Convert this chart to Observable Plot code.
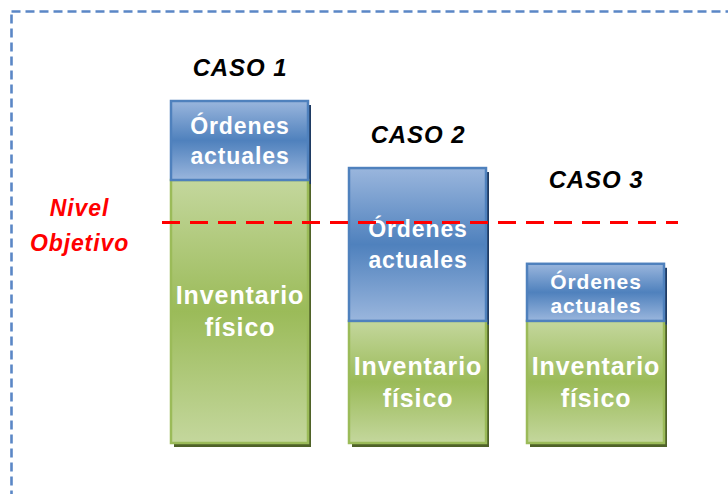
<!DOCTYPE html>
<html>
<head>
<meta charset="utf-8">
<script src="https://cdn.jsdelivr.net/npm/d3@7"></script>
<script src="https://cdn.jsdelivr.net/npm/@observablehq/plot@0.6"></script>
<style>
  html, body { margin: 0; padding: 0; background: #fff; }
  svg { display: block; }
</style>
</head>
<body>
<div id="chart"></div>
<script>
// ---- data ----
const cases = ["CASO 1", "CASO 2", "CASO 3"];
const inventario = [76.9, 35.7, 35.7];     // Inventario físico
const ordenes = [23.1, 44.7, 16.7];         // Órdenes actuales
const nivelObjetivo = 64.6;                 // Nivel Objetivo
const caseLabelLevel = [109.6, 90.1, 76.9]; // where the CASO titles sit (y units)
const segInventario = "Inventario\nfísico";
const segOrdenes = "Órdenes\nactuales";
const nivelLabel = "Nivel\nObjetivo";

// ---- derived tables ----
const invRows = cases.map((c, i) => ({caso: c, y1: 0, y2: inventario[i], mid: inventario[i] / 2, label: segInventario, i}));
const ordRows = cases.map((c, i) => ({caso: c, y1: inventario[i], y2: inventario[i] + ordenes[i], mid: inventario[i] + ordenes[i] / 2, label: segOrdenes, i}));
const titleRows = cases.map((c, i) => ({caso: c, y: caseLabelLevel[i]}));

const font = "'Liberation Sans', Arial, sans-serif";

const plot = Plot.plot({
  width: 728,
  height: 494,
  marginTop: 101,
  marginBottom: 51,
  marginLeft: 162,
  marginRight: 50,
  style: {fontFamily: font, background: "white", overflow: "hidden", letterSpacing: "0.9px"},
  x: {domain: cases, range: [130, 705], paddingInner: 0.23, paddingOuter: 0.23, axis: null},
  y: {domain: [0, 100], axis: null},
  marks: [
    // dashed border (clipped by svg on right/bottom)
    Plot.frame({stroke: "#5b87c6", strokeWidth: 2.6, strokeDasharray: "9,5",
      insetLeft: -151, insetTop: -90, insetRight: -80, insetBottom: -80}),
    // shadows
    Plot.barY(invRows, {x: "caso", y1: "y1", y2: "y2", fill: "#4f6228", dx: 3, dy: 4}),
    Plot.barY(ordRows, {x: "caso", y1: "y1", y2: "y2", fill: "#1f3b63", dx: 3, dy: 4}),
    // bars
    Plot.barY(invRows, {x: "caso", y1: "y1", y2: "y2", fill: "url(#gGreen)", stroke: "#9bbb59", strokeWidth: 2.5}),
    Plot.barY(ordRows, {x: "caso", y1: "y1", y2: "y2", fill: "url(#gBlue)", stroke: "#4f81bd", strokeWidth: 2.5}),
    // segment labels
    Plot.text(invRows, {x: "caso", y: "mid", text: "label", fill: "white", fontWeight: "bold", fontSize: 25, lineHeight: 1.28, dy: -2}),
    Plot.text(ordRows.filter(d => d.i < 2), {x: "caso", y: "mid", text: "label", fill: "white", fontWeight: "bold", fontSize: 23, lineHeight: 1.33, dy: -2}),
    Plot.text(ordRows.filter(d => d.i === 2), {x: "caso", y: "mid", text: "label", fill: "white", fontWeight: "bold", fontSize: 21, lineHeight: 1.15}),
    // target line
    Plot.ruleY([nivelObjetivo], {stroke: "#ff0000", strokeWidth: 3, strokeDasharray: "18,10"}),
    Plot.text([nivelObjetivo], {y: d => d, text: [nivelLabel], frameAnchor: "left", textAnchor: "middle", dx: -83, fill: "#ff0000",
      fontWeight: "bold", fontStyle: "italic", fontSize: 23, lineHeight: 1.5}),
    // case titles
    Plot.text(titleRows, {x: "caso", y: "y", text: "caso", fill: "black", fontWeight: "bold", fontStyle: "italic", fontSize: 24})
  ]
});

// gradients
const defs = d3.select(plot).insert("defs", ":first-child");
function grad(id, edge, mid) {
  const g = defs.append("linearGradient").attr("id", id).attr("x1", 0).attr("y1", 0).attr("x2", 0).attr("y2", 1);
  g.append("stop").attr("offset", 0).attr("stop-color", edge);
  g.append("stop").attr("offset", 0.5).attr("stop-color", mid);
  g.append("stop").attr("offset", 1).attr("stop-color", edge);
}
grad("gBlue", "#9ab6dd", "#4f81bd");
grad("gGreen", "#c4d79d", "#9bbb59");

document.getElementById("chart").appendChild(plot);
</script>
</body>
</html>
